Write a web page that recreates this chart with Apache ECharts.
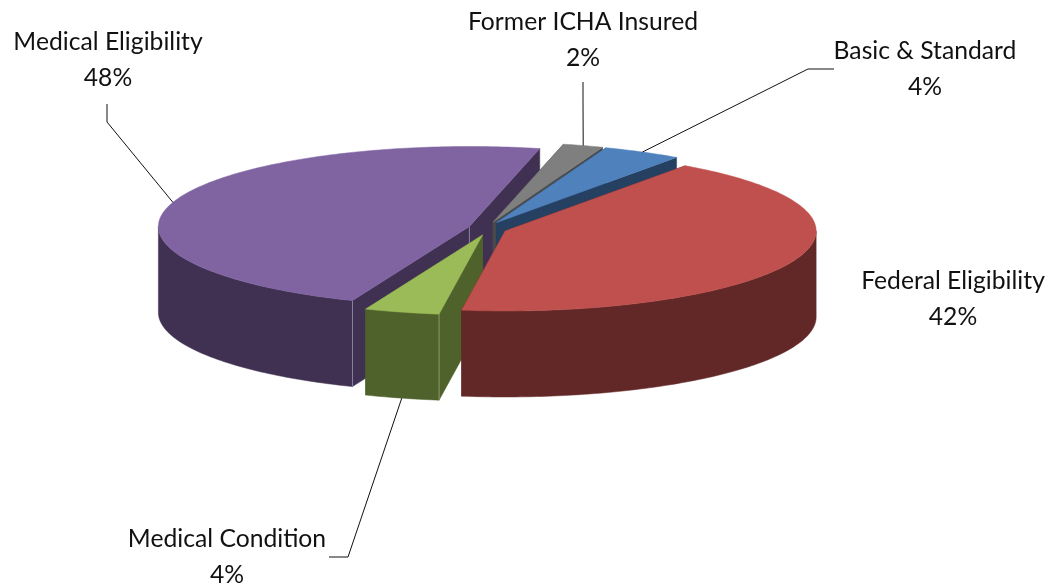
<!DOCTYPE html>
<html>
<head>
<meta charset="utf-8">
<style>html,body{margin:0;padding:0;background:#fff}#c{width:1052px;height:587px}</style>
<script src="https://cdn.jsdelivr.net/npm/echarts@6/dist/echarts.min.js"></script>
</head>
<body>
<div id="c"></div>
<script>
// Data, clockwise from the first slice
const categories = ['Federal Eligibility', 'Medical Condition', 'Medical Eligibility', 'Former ICHA Insured', 'Basic & Standard'];
const shares = [42.4, 3.9, 47.5, 2.1, 4.1];

// Styles
const topColors = ['#C0504D', '#9BBB59', '#8064A2', '#7F7F7F', '#4F81BD'];
const wallColors = ['#622827', '#4F622C', '#403152', '#4A4A4A', '#254061'];
const seamColors = ['#8a5a58', '#8a9a6a', '#8d7fa5', '#777', '#567'];
const paintRank = [4, 3, 0, 1, 2];

// Layout of the projected pie
const centerX = 487.5, centerY = 228.5, radiusX = 311, radiusY = 80, depth = 86;
const explode = 19, explodeY = 0.35, firstAngle = 35.4;
const labelCentres = [[953, 299.5], [227, 557], [108, 60], [583, 40], [925, 69]];
const leaderStarts = [null, [[329, 557], [348, 557]], [[107, 104], [107, 122]], [[583, 82], [583, 100]], [[834, 69], [808, 69]]];
const leaderOnWall = [false, true, false, false, false];

const total = shares.reduce((a, b) => a + b, 0);
const rad = d => d * Math.PI / 180;

function renderSlice(params, api) {
  const i = params.dataIndex;
  let before = 0;
  for (let k = 0; k < i; k++) before += shares[k];
  const start = firstAngle + before / total * 360;
  const end = start + api.value(0) / total * 360;
  const mid = (start + end) / 2;
  const ax = centerX + explode * Math.sin(rad(mid));
  const ay = centerY - explode * explodeY * Math.cos(rad(mid));
  const pt = (a, dz) => [ax + radiusX * Math.sin(rad(a)), ay - radiusY * Math.cos(rad(a)) + (dz || 0)];
  const rank = paintRank[i] * 10;
  const children = [];
  const poly = (points, fill, z) => children.push({
    type: 'polygon', z2: rank + z, shape: { points },
    style: { fill, stroke: fill, lineWidth: 0.5 }
  });
  const seam = (p, z) => children.push({
    type: 'line', z2: rank + z,
    shape: { x1: p[0], y1: p[1], x2: p[0], y2: p[1] + depth },
    style: { stroke: seamColors[i], lineWidth: 1 }
  });

  // cut faces
  const apex = [ax, ay];
  const apexLow = [ax, ay + depth];
  poly([apex, pt(start), pt(start, depth), apexLow], wallColors[i], 1);
  poly([apex, pt(end), pt(end, depth), apexLow], wallColors[i], 1);

  // outer wall: the part of the rim on the near side
  const arcPts = (a, b, dz) => {
    const out = [], n = Math.max(2, Math.ceil(Math.abs(b - a)));
    for (let s = 0; s <= n; s++) out.push(pt(a + (b - a) * s / n, dz));
    return out;
  };
  const from = Math.max(start, 90), to = Math.min(end, 270);
  if (to > from) {
    poly(arcPts(from, to, 0).concat(arcPts(to, from, depth)), wallColors[i], 2);
  }

  // seam lines on inner corners
  if (i === 1) seam(pt(start), 3);
  if (i === 2) { seam(pt(start), 3); seam(apex, 1.5); }

  // top face
  poly([apex].concat(arcPts(start, end, 0)), topColors[i], 4);

  // label
  children.push({
    type: 'text', z2: 100,
    style: {
      text: categories[i] + '\n' + Math.round(api.value(0) / total * 100) + '%',
      x: labelCentres[i][0], y: labelCentres[i][1],
      align: 'center', verticalAlign: 'middle',
      font: '24.7px Lato', lineHeight: 36, fill: '#111'
    }
  });

  // leader
  if (leaderStarts[i]) {
    const anchor = pt(mid, leaderOnWall[i] ? depth : 0);
    children.push({
      type: 'polyline', z2: 90,
      shape: { points: leaderStarts[i].concat([anchor]) },
      style: { stroke: '#111', lineWidth: 1, fill: 'none' }
    });
  }
  return { type: 'group', children };
}

const chart = echarts.init(document.getElementById('c'), null, { renderer: 'canvas' });
chart.setOption({
  backgroundColor: '#fff',
  animation: false,
  series: [{
    type: 'custom',
    coordinateSystem: 'none',
    renderItem: renderSlice,
    data: categories.map((n, i) => ({ name: n, value: [shares[i]] }))
  }]
});
</script>
</body>
</html>
